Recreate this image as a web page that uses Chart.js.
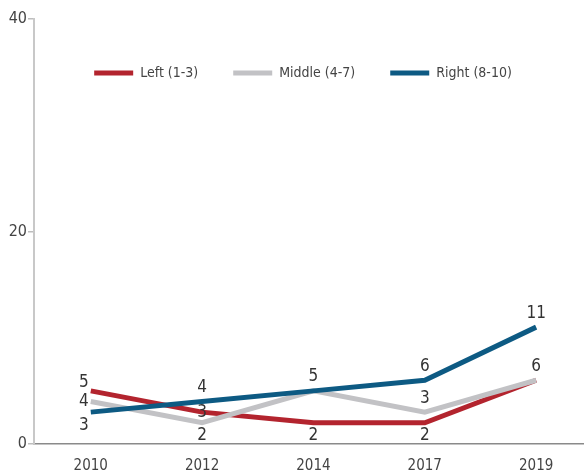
<!DOCTYPE html>
<html>
<head>
<meta charset="utf-8">
<script src="https://cdn.jsdelivr.net/npm/chart.js@4"></script>
<style>
	body { margin: 0; background: #fff; }
	canvas { display: block; }
</style>
</head>
<body>
<canvas id="chart" width="584" height="474"></canvas>
<script>
const years = ['2010', '2012', '2014', '2017', '2019'];
const left = [5, 3, 2, 2, 6];
const middle = [4, 2, 5, 3, 6];
const right = [3, 4, 5, 6, 11];
const yTicks = [0, 20, 40];

// where each value label sits relative to its point ('' = not drawn)
const leftLabels = ['above', 'center', 'below', 'below', ''];
const middleLabels = ['center', 'below', '', 'above', 'above'];
const rightLabels = ['below', 'above', 'above', 'above', 'above'];

const font = "'Liberation Sans Narrow', 'DejaVu Sans Condensed', 'Roboto Condensed', sans-serif";

const series = (label, values, color, order, labels) => ({
	label,
	data: values.map((v, i) => ({ x: i, y: v })),
	borderColor: color,
	backgroundColor: color,
	borderWidth: 5,
	pointRadius: 0,
	tension: 0,
	order,
	valueLabels: labels
});

const valueLabels = {
	id: 'valueLabels',
	afterDatasetsDraw(chart) {
		const ctx = chart.ctx;
		ctx.save();
		ctx.font = `17px ${font}`;
		ctx.fillStyle = '#333';
		ctx.textAlign = 'center';
		ctx.textBaseline = 'middle';
		chart.data.datasets.forEach((ds, d) => {
			chart.getDatasetMeta(d).data.forEach((pt, i) => {
				const where = ds.valueLabels[i];
				if (!where) return;
				let dy = where === 'above' ? -14 : where === 'below' ? 13 : 0;
				if (i === 0 && where === 'above') dy = -8;
				const dx = i === 0 ? -7 : 0;
				ctx.fillText(ds.data[i].y, pt.x + dx, pt.y + dy);
			});
		});
		ctx.restore();
	}
};

// legend sits inside the plot, just below the top
const moveLegend = {
	id: 'moveLegend',
	afterLayout(chart) {
		const lg = chart.legend;
		lg.top = 31;
		lg.bottom = 120;
		lg.left = chart.chartArea.left - 6;
		lg.right = chart.chartArea.right - 6;
	}
};

new Chart(document.getElementById('chart'), {
	type: 'line',
	data: {
		datasets: [
			series('Left (1-3)', left, '#b3242e', 3, leftLabels),
			series('Middle (4-7)', middle, '#c2c2c5', 2, middleLabels),
			series('Right (8-10)', right, '#0d5a83', 1, rightLabels)
		]
	},
	options: {
		responsive: false,
		devicePixelRatio: 1,
		animation: false,
		layout: { padding: { top: 19, right: 0, left: 0, bottom: 0 } },
		plugins: {
			tooltip: { enabled: false },
			legend: {
				position: 'top',
				align: 'center',
				maxHeight: 0.01,
				labels: {
					boxWidth: 39,
					boxHeight: 5,
					padding: 35,
					color: '#444',
					font: { family: font, size: 14 },
					generateLabels: (chart) => Chart.defaults.plugins.legend.labels.generateLabels(chart)
						.map((item) => ({ ...item, lineWidth: 0, fillStyle: item.strokeStyle })),
					sort: (a, b) => a.datasetIndex - b.datasetIndex
				}
			}
		},
		scales: {
			x: {
				type: 'linear',
				min: -0.51,
				max: 4.43,
				afterBuildTicks: (axis) => { axis.ticks = years.map((y, i) => ({ value: i })); },
				afterFit: (axis) => { axis.height = 30; },
				grid: { display: false },
				border: { color: '#8a8a8a', width: 1.5 },
				ticks: {
					padding: 5,
					color: '#444',
					font: { family: font, size: 15 },
					autoSkip: false,
					maxRotation: 0,
					callback: (v) => years[v]
				}
			},
			y: {
				min: 0,
				max: 40,
				afterBuildTicks: (axis) => { axis.ticks = yTicks.map((v) => ({ value: v })); },
				afterFit: (axis) => { axis.width = 34; },
				grid: { drawOnChartArea: false, drawTicks: true, tickLength: 6, color: '#bdbdbd', lineWidth: 1.5 },
				border: { color: '#c8c8c8', width: 2 },
				ticks: {
					padding: 1,
					color: '#444',
					font: { family: font, size: 16 }
				}
			}
		}
	},
	plugins: [valueLabels, moveLegend]
});
</script>
</body>
</html>
